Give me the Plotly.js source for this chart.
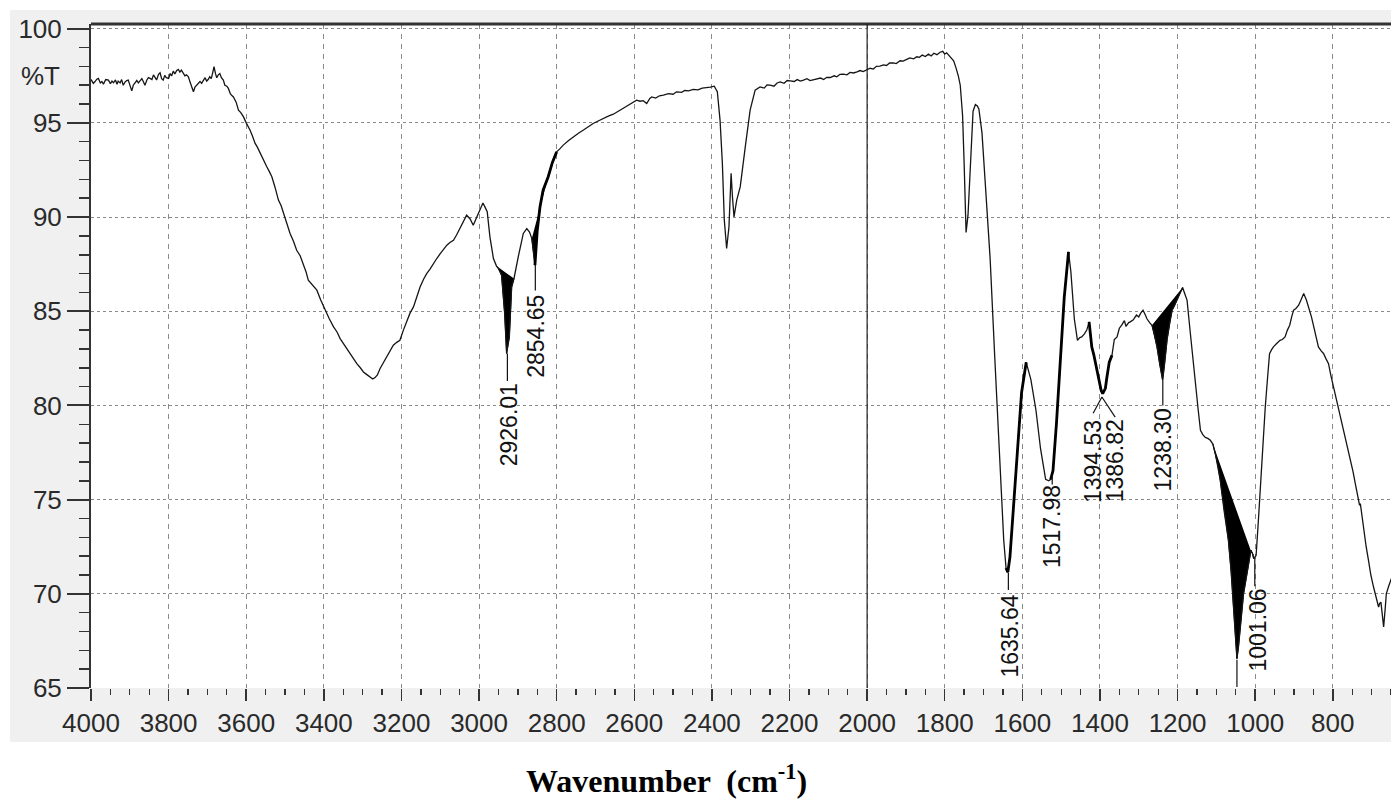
<!DOCTYPE html>
<html><head><meta charset="utf-8">
<script src="https://cdn.plot.ly/plotly-3.0.1.min.js"></script>
<style>html,body{margin:0;padding:0;background:#fff;} #chart{width:1391px;height:811px;}</style>
</head><body><div id="chart"></div>
<script>
// Wavenumber (cm-1) and %T
const wavenumber = [
4000,3994,3990,3985,3981,3976,3972,3968,3962,3955,3950,3946,3942,3937,3933,3930,3925,3921,3917,3912,
3908,3904,3900,3895,3891,3887,3882,3878,3874,3869,3865,3861,3856,3852,3848,3843,3839,3835,3831,3826,
3822,3818,3814,3810,3806,3800,3796,3792,3788,3784,3779,3775,3771,3767,3762,3758,3754,3749,3745,3741,
3736,3732,3728,3723,3719,3715,3710,3706,3702,3698,3694,3690,3686,3683,3679,3676,3672,3668,3664,3659,
3655,3650,3646,3641,3637,3633,3626,3620,3614,3607,3600,3596,3590,3584,3577,3571,3564,3556,3547,3540,
3534,3526,3517,3510,3504,3496,3487,3478,3470,3461,3453,3446,3440,3430,3418,3408,3397,3386,3375,3366,
3358,3347,3337,3326,3315,3306,3298,3290,3281,3274,3268,3262,3255,3247,3238,3229,3221,3212,3204,3195,
3186,3178,3169,3160,3152,3143,3135,3126,3118,3109,3100,3092,3083,3075,3066,3058,3049,3040,3032,3023,
3015,3008,3002,2995,2990,2984,2979,2972,2963,2955,2950,2942,2934,2929,2922,2916,2910,2899,2886,2877,
2870,2864,2856,2850,2843,2835,2822,2811,2800,2792,2783,2770,2757,2744,2731,2718,2706,2693,2680,2667,
2654,2641,2628,2619,2611,2602,2594,2585,2577,2568,2560,2555,2545,2535,2525,2512,2500,2491,2478,2470,
2460,2448,2436,2425,2413,2404,2394,2386,2379,2373,2368,2362,2356,2350.5,2347,2343,2336,2327,2314,2301.5,
2288.6,2276,2265,2258,2250,2240,2232,2224,2214,2206,2198,2188,2180,2172,2164,2155,2147,2138,2130,2120,
2112,2104,2095,2085,2078,2070,2061,2052,2044,2035,2026,2018,2010,2000,1992,1984,1976,1967,1958,1950,
1942,1933,1925,1915,1907,1898,1890,1880,1872,1865,1858,1850,1842,1835,1828,1820,1812,1805,1800,1795,
1788,1783,1777,1771,1765,1760,1754,1750,1745,1740,1733,1727,1721,1716,1712,1704,1696,1683,1671,1658,
1648,1642,1637.5,1632,1621,1610,1602,1590,1578,1565,1553,1540,1532,1527,1521,1512,1501,1492,1481,1475,
1466,1458,1452,1447,1440,1434,1428,1421,1416,1406,1397,1393,1386,1382,1376,1369,1363,1356,1350,1344,
1337,1333,1326,1322,1314,1306,1300,1295,1289,1283,1279,1272,1266,1260,1253,1246,1238.5,1233,1227,1220,
1214,1208,1201.6,1193,1187,1181,1175.6,1167,1160,1154,1147,1141,1135,1128.5,1122,1115.6,1109,1102.7,1096,1090,
1080,1069,1062,1056,1051,1047,1043,1040,1035,1030,1025,1020,1015,1011,1006,1004,1001,997.6,992,987,
980,974,968,963,958,953,944,936,930,923,917,911,906,901,895,888,882,875,868,862,
855,849,843,837,830,824,818,811,805,798,792,785,776,768,762,755,748,742,738,734,
731,729,725,721,714,708,702,695,689,682,679,676,673,669,665,662,656,649];
const transmittance = [
97.31,97.10,97.18,97.32,97.36,97.12,97.20,97.06,97.30,97.27,97.08,97.22,97.13,97.28,97.05,97.22,97.12,97.30,97.00,97.18,
97.24,97.27,97.02,96.70,97.00,97.09,97.25,97.12,97.22,97.35,97.18,97.00,97.28,97.40,97.36,97.30,97.55,97.40,97.28,97.58,
97.66,97.35,97.27,97.52,97.40,97.36,97.62,97.50,97.75,97.60,97.78,97.84,97.70,97.80,97.62,97.50,97.55,97.45,97.18,96.98,
96.65,96.90,97.00,97.09,97.20,97.10,97.27,97.40,97.22,97.30,97.45,97.35,97.70,97.98,97.60,97.40,97.55,97.62,97.40,97.27,
97.00,96.95,96.83,96.55,96.45,96.38,96.10,95.68,95.55,95.32,95.00,94.85,94.61,94.30,93.91,93.70,93.38,93.05,92.67,92.40,
92.14,91.60,90.90,90.60,90.19,89.70,89.13,88.70,88.24,87.95,87.53,87.10,86.65,86.40,86.12,85.60,85.06,84.60,84.17,83.90,
83.55,83.20,82.93,82.55,82.22,82.00,81.78,81.65,81.51,81.40,81.48,81.62,81.96,82.25,82.58,82.90,83.20,83.35,83.46,84.00,
84.52,84.90,85.23,85.80,86.29,86.70,87.00,87.25,87.53,87.80,88.06,88.30,88.51,88.65,88.77,89.05,89.40,89.80,90.10,89.90,
89.57,89.90,90.19,90.55,90.75,90.50,90.28,88.95,87.80,87.40,87.27,86.91,84.88,82.76,83.64,86.29,86.74,87.89,89.13,89.39,
89.20,88.86,87.45,89.30,90.54,91.43,92.13,92.90,93.46,93.62,93.82,94.05,94.26,94.45,94.62,94.80,94.97,95.10,95.24,95.36,
95.46,95.62,95.82,95.92,96.03,96.12,96.21,96.15,96.18,96.03,96.30,96.38,96.32,96.44,96.47,96.55,96.52,96.65,96.62,96.72,
96.70,96.78,96.75,96.85,96.86,96.90,96.95,96.65,95.15,92.85,89.84,88.33,89.48,92.32,91.07,90.01,90.90,91.60,93.73,95.68,
96.74,96.91,96.85,97.02,97.00,96.95,97.12,97.18,97.10,97.25,97.23,97.20,97.30,97.22,97.27,97.35,97.25,97.30,97.31,97.38,
97.30,97.42,97.41,97.50,97.45,97.58,97.59,97.55,97.68,97.65,97.71,97.78,97.72,97.84,97.90,97.86,98.00,98.01,98.08,98.05,
98.18,98.19,98.15,98.30,98.28,98.37,98.45,98.40,98.51,98.48,98.60,98.52,98.65,98.55,98.70,98.62,98.75,98.80,98.65,98.72,
98.55,98.49,98.30,97.92,97.50,97.00,95.39,92.86,89.18,90.10,92.86,95.62,95.97,95.90,95.74,94.47,91.94,87.80,82.52,77.23,
72.86,71.37,71.14,71.94,75.16,78.61,80.68,82.29,81.37,79.76,77.69,76.08,76.00,76.08,76.54,79.07,82.98,85.74,88.15,87.11,
84.59,83.45,83.60,83.64,83.80,84.00,84.44,83.10,82.70,81.60,80.80,80.63,80.91,81.51,82.30,82.67,83.50,83.64,84.10,84.26,
84.50,84.20,84.40,84.44,84.55,84.80,84.70,84.90,85.06,84.80,84.60,84.40,84.26,83.80,83.11,82.20,81.34,82.30,83.50,84.40,
85.06,85.30,85.60,85.95,86.26,85.90,85.59,83.82,82.30,80.99,79.80,78.68,78.45,78.30,78.25,78.15,77.95,77.45,76.80,76.03,
74.40,72.85,71.20,69.30,67.80,66.56,67.20,67.89,69.00,70.01,70.60,71.25,71.80,72.31,72.10,71.87,71.95,72.04,73.80,75.67,
78.00,79.92,81.50,82.75,82.95,83.11,83.30,83.46,83.50,83.64,84.00,84.26,84.70,85.06,85.15,85.32,85.60,85.94,85.60,85.23,
84.70,84.17,83.60,83.11,82.90,82.76,82.50,82.22,81.60,80.98,80.40,79.75,79.00,78.33,77.70,77.09,76.50,75.85,75.40,75.05,
74.70,74.79,74.20,73.37,72.50,71.78,71.00,70.36,69.80,69.30,69.50,69.56,69.00,68.24,69.20,70.01,70.40,70.81];

// Integrated (filled) bands [start, end] and bold-marked bands
const filledBands = [[2956, 2909], [2866, 2822], [1268, 1187], [1110, 1004]];
const boldBands = [[1642, 1590], [1527, 1481], [1428, 1369], [2856, 2800]];

// Peak labels
const peakLabels = ['2926.01', '2854.65', '1635.64', '1517.98', '1394.53', '1386.82', '1238.30', '1001.06'];
const peakLabelX = [2922.7, 2853, 1631.4, 1523.2, 1417.5, 1360.8, 1237.1, 992.3];
const peakLabelY = [78.95, 83.65, 67.74, 73.55, 77.0, 77.04, 77.62, 68.06];

// Leader lines from peaks to labels
const leaderX0 = [2927, 2855, 1636, 1523, 1395, 1395, 1238, 1001, 1047];
const leaderY0 = [82.76, 87.45, 71.1, 76.2, 80.45, 80.45, 81.34, 71.9, 66.5];
const leaderX1 = [2927, 2855, 1636, 1523, 1417.5, 1360.8, 1238, 1001, 1047];
const leaderY1 = [81.3, 86.1, 70.2, 75.8, 79.59, 79.38, 80.0, 70.4, 65.05];

const dividerWavenumber = 2000;

function band(start, end) {
  const x = [], y = [];
  for (let i = 0; i < wavenumber.length; i++) {
    if (wavenumber[i] <= start && wavenumber[i] >= end) { x.push(wavenumber[i]); y.push(transmittance[i]); }
  }
  return {x, y};
}

const traces = [];
filledBands.forEach(b => {
  const s = band(b[0], b[1]);
  traces.push({x: s.x, y: s.y, type: 'scatter', mode: 'lines', fill: 'toself',
    fillcolor: '#000', line: {color: '#000', width: 1}, hoverinfo: 'skip', showlegend: false});
});
traces.push({x: wavenumber, y: transmittance, type: 'scatter', mode: 'lines',
  line: {color: '#151515', width: 1.3}, showlegend: false, name: '%T'});
boldBands.forEach(b => {
  const s = band(b[0], b[1]);
  traces.push({x: s.x, y: s.y, type: 'scatter', mode: 'lines',
    line: {color: '#000', width: 2.8}, hoverinfo: 'skip', showlegend: false});
});

const tickFont = {family: '"Liberation Sans Narrow", "Arial Narrow", "Liberation Sans", Arial, sans-serif', size: 26, color: '#2a2a2a'};

const shapes = [
  {type: 'rect', xref: 'paper', yref: 'paper', x0: -0.0623, x1: 1.01, y0: -0.0813, y1: 1.0211,
   fillcolor: '#f0f0f0', line: {width: 0}, layer: 'below'},
  {type: 'rect', xref: 'paper', yref: 'paper', x0: 0, x1: 1, y0: 0, y1: 1,
   fillcolor: '#ffffff', line: {width: 0}, layer: 'below'},
  {type: 'line', xref: 'paper', yref: 'paper', x0: 0, x1: 1, y0: 1, y1: 1,
   line: {color: '#333', width: 3}},
  {type: 'line', xref: 'x', yref: 'paper', x0: dividerWavenumber, x1: dividerWavenumber, y0: 0, y1: 1,
   line: {color: '#222', width: 1.2}}
];
for (let i = 0; i < leaderX0.length; i++) {
  shapes.push({type: 'line', xref: 'x', yref: 'y', x0: leaderX0[i], y0: leaderY0[i], x1: leaderX1[i], y1: leaderY1[i],
    line: {color: '#111', width: 1.2}});
}

const annotations = peakLabels.map((t, i) => ({
  text: t, x: peakLabelX[i], y: peakLabelY[i], xref: 'x', yref: 'y', showarrow: false,
  textangle: -90, xanchor: 'center', yanchor: 'middle',
  font: {family: '"Liberation Sans", Arial, sans-serif', size: 23, color: '#111'}
}));
annotations.push({text: '%T', xref: 'paper', yref: 'y', x: -0.0223, y: 97.48, xanchor: 'right', yanchor: 'middle',
  showarrow: false, font: tickFont});
annotations.push({text: 'Wavenumber  (cm<sup>-1</sup>)', xref: 'paper', yref: 'paper', x: 0.443, y: -0.137,
  xanchor: 'center', yanchor: 'middle', showarrow: false,
  font: {family: '"Liberation Serif", "Times New Roman", serif', size: 32, color: '#000', weight: 'bold'}});

const layout = {
  width: 1391, height: 811,
  margin: {l: 91, r: 0, t: 24, b: 123, pad: 0},
  paper_bgcolor: '#ffffff', plot_bgcolor: 'rgba(0,0,0,0)',
  showlegend: false,
  xaxis: {range: [4000, 650], autorange: false, tick0: 0, dtick: 200,
    ticks: 'outside', ticklen: 12, tickwidth: 1.5, tickcolor: '#333',
    minor: {dtick: 50, tick0: 0, ticks: 'outside', ticklen: 6, tickwidth: 1.3, tickcolor: '#333', showgrid: false},
    showgrid: true, gridcolor: '#8a8a8a', griddash: '5px,5px', gridwidth: 1,
    showline: false, zeroline: false, tickfont: tickFont},
  yaxis: {range: [65, 100.25], autorange: false, tick0: 0, dtick: 5,
    ticks: 'outside', ticklen: 22, tickwidth: 2, tickcolor: '#333',
    minor: {dtick: 1, tick0: 0, ticks: 'outside', ticklen: 10, tickwidth: 1.5, tickcolor: '#333', showgrid: false},
    showgrid: true, gridcolor: '#8a8a8a', griddash: '3px,3px', gridwidth: 1,
    showline: true, linecolor: '#333', linewidth: 2, zeroline: false, tickfont: tickFont},
  shapes: shapes,
  annotations: annotations
};

Plotly.newPlot('chart', traces, layout, {staticPlot: true, displayModeBar: false});
</script></body></html>
